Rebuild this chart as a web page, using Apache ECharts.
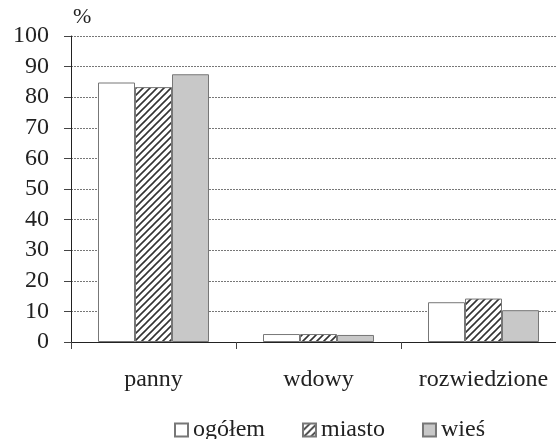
<!DOCTYPE html>
<html>
<head>
<meta charset="utf-8">
<script src="https://cdn.jsdelivr.net/npm/echarts@6/dist/echarts.min.js"></script>
<style>
html, body { margin: 0; padding: 0; background: #fff; }
#chart { width: 556px; height: 439px; }
</style>
</head>
<body>
<div id="chart"></div>
<script>
var categories = ['panny', 'wdowy', 'rozwiedzione'];
var ogolem = [84.8, 2.6, 13.0];
var miasto = [83.3, 2.6, 14.2];
var wies = [87.5, 2.3, 10.4];
var yTicks = [0, 10, 20, 30, 40, 50, 60, 70, 80, 90, 100];

// hatch pattern for "miasto"
var hatch = document.createElement('canvas');
hatch.width = 7;
hatch.height = 7;
var hc = hatch.getContext('2d');
hc.fillStyle = '#fff';
hc.fillRect(0, 0, 7, 7);
hc.strokeStyle = '#333';
hc.lineWidth = 1.6;
hc.beginPath();
hc.moveTo(-2, 9); hc.lineTo(9, -2);
hc.moveTo(-2, 2); hc.lineTo(2, -2);
hc.moveTo(5, 9); hc.lineTo(9, 5);
hc.stroke();

var font = '"Liberation Serif", "DejaVu Serif", serif';
var border = { borderColor: '#777', borderWidth: 1 };

var chart = echarts.init(document.getElementById('chart'));
chart.setOption({
    animation: false,
    textStyle: { fontFamily: font },
    grid: { left: 71, width: 495, top: 36, bottom: 97, outerBoundsMode: 'none' },
    legend: {
        left: 169,
        top: 413,
        icon: 'rect',
        itemWidth: 13,
        itemHeight: 13,
        itemGap: 37,
        textStyle: { fontFamily: font, fontSize: 24, color: '#222' },
        data: ['ogółem', 'miasto', 'wieś']
    },
    xAxis: {
        type: 'category',
        data: categories,
        axisLine: { lineStyle: { color: '#222' } },
        axisTick: { show: true, length: 7, lineStyle: { color: '#444' } },
        axisLabel: { fontFamily: font, fontSize: 24, color: '#222', margin: 26, interval: 0 }
    },
    yAxis: {
        type: 'value',
        min: 0,
        max: 100,
        interval: 10,
        name: '%',
        nameLocation: 'end',
        nameGap: 8,
        nameTextStyle: { fontFamily: font, fontSize: 22, color: '#222', align: 'left', padding: [0, 0, 0, 2] },
        axisLine: { show: true, lineStyle: { color: '#222' } },
        axisTick: { show: true, length: 7, lineStyle: { color: '#444' } },
        axisLabel: {
            fontFamily: font, fontSize: 24, color: '#222', margin: 22,
            formatter: function (v) { return yTicks.indexOf(v) >= 0 ? String(v) : ''; }
        },
        splitLine: { lineStyle: { color: '#777', type: [2, 1], width: 1 } }
    },
    series: [
        { name: 'ogółem', type: 'bar', data: ogolem, barWidth: 37, barGap: '0%',
          itemStyle: Object.assign({ color: '#fff' }, border) },
        { name: 'miasto', type: 'bar', data: miasto, barWidth: 37, barGap: '0%',
          itemStyle: Object.assign({ color: { image: hatch, repeat: 'repeat' } }, border) },
        { name: 'wieś', type: 'bar', data: wies, barWidth: 37, barGap: '0%',
          itemStyle: Object.assign({ color: '#c8c8c8' }, border) }
    ]
});
window.onresize = function () { chart.resize(); };
</script>
</body>
</html>
